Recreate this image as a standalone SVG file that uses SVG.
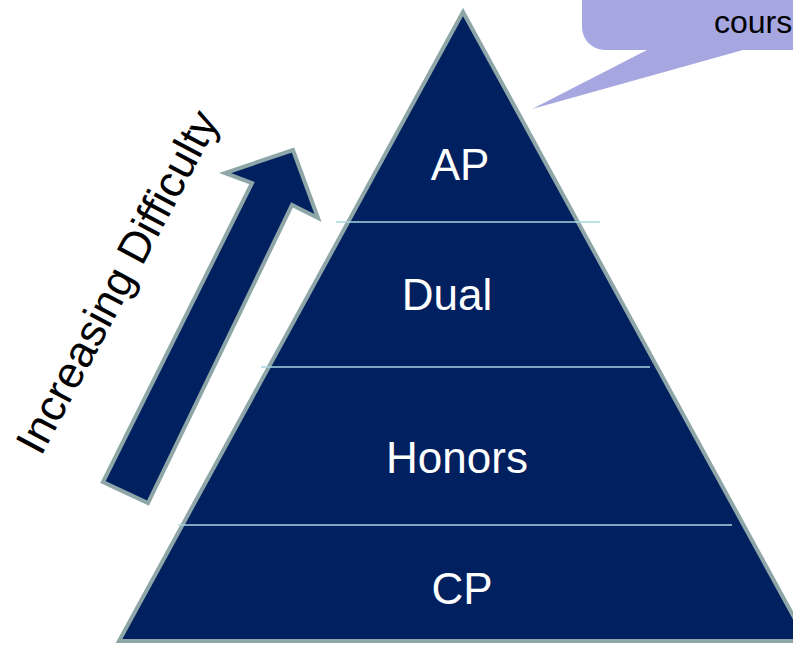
<svg xmlns="http://www.w3.org/2000/svg" width="793" height="645" viewBox="0 0 793 645">
  <style>
    .shape { fill: #002060; stroke: #8FA6A9; stroke-width: 4; stroke-linejoin: miter; }
    .divider { stroke: #A8D6DF; stroke-width: 1.5; fill: none; }
    .tier { font-family: "Liberation Sans", Arial, sans-serif; font-size: 44px; fill: #FFFFFF; text-anchor: middle; }
    .side { font-family: "Liberation Sans", Arial, sans-serif; font-size: 44px; fill: #000000; }
    .note { font-family: "Liberation Sans", Arial, sans-serif; font-size: 32px; fill: #000000; }
  </style>
  <rect width="793" height="645" fill="#FFFFFF"/>

  <g id="callout">
    <path d="M582,-10 L582,27 A23,23 0 0 0 605,50 L647,50 L532,109 L743,50 L810,50 L810,-10 Z" fill="#A6A6E0"/>
    <text class="note" x="714" y="33">cours</text>
  </g>

  <g id="pyramid">
    <polygon class="shape" points="463,12 119,641 807,641"/>
  </g>

  <g id="connectors">
    <line class="divider" x1="336" y1="222" x2="600" y2="222"/>
    <line class="divider" x1="261" y1="367" x2="650" y2="367"/>
    <line class="divider" x1="178" y1="525" x2="732" y2="525"/>
  </g>

  <g id="tier-ap"><text class="tier" x="460" y="180">AP</text></g>
  <g id="tier-dual"><text class="tier" x="447" y="310">Dual</text></g>
  <g id="tier-honors"><text class="tier" x="457" y="473">Honors</text></g>
  <g id="tier-cp"><text class="tier" x="462" y="604">CP</text></g>

  <g id="difficulty-arrow">
    <polygon class="shape" points="103,482 252,183 225,173 293,150 318,218 292,205 148,503"/>
  </g>

  <g id="difficulty-label">
    <text class="side" x="41" y="457" transform="rotate(-62 41 457)">Increasing Difficulty</text>
  </g>
</svg>
